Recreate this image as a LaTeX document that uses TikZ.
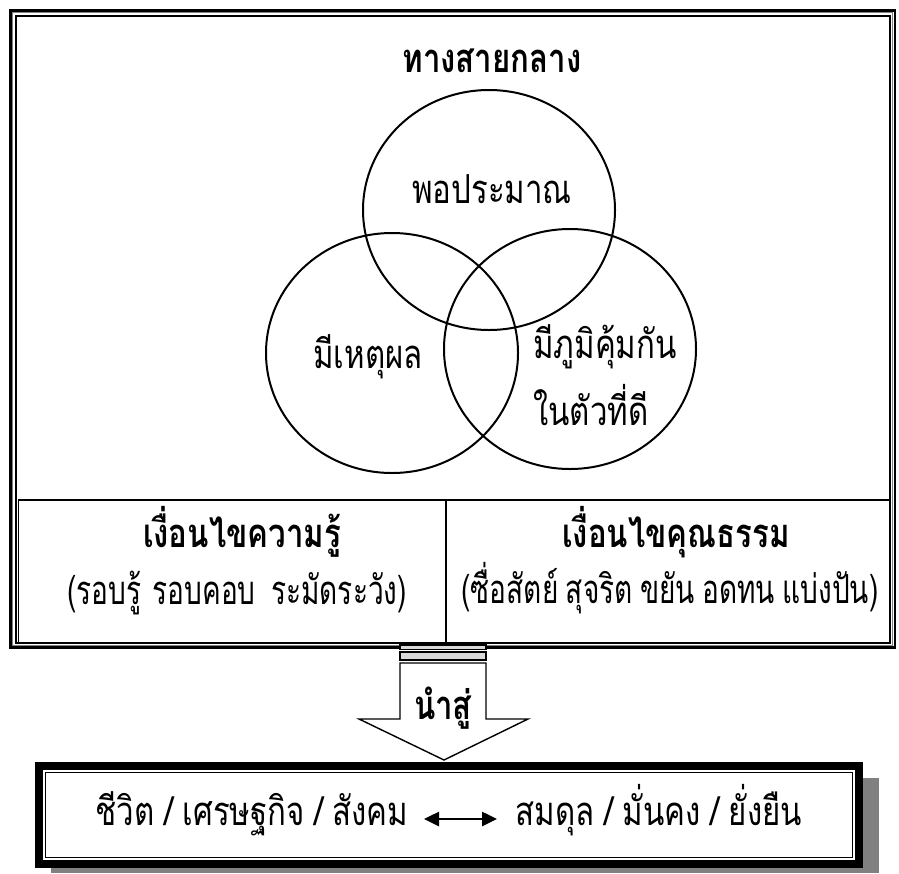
\documentclass[tikz,border=0pt]{standalone}
\usepackage{fontspec}
\newfontfamily\thaifont[Script=Thai, FakeStretch=0.78, WordSpace=0.9]{Loma}
\newfontfamily\thainarrow[Script=Thai, FakeStretch=0.70, WordSpace=0.8]{Loma}
\usepackage{tikz}
\usetikzlibrary{shapes.geometric, arrows.meta, positioning}
\definecolor{shadowgray}{HTML}{808080}
\definecolor{bandgray}{HTML}{D9D9D9}
\tikzset{
  ring/.style={ellipse, draw, line width=1pt, minimum width=126pt, minimum height=120pt, inner sep=0pt},
  lbl/.style={font=\thaifont\fontsize{20}{24}\selectfont, inner sep=0pt, anchor=base},
  hd/.style={lbl, font=\thaifont\bfseries\fontsize{20}{24}\selectfont},
  note/.style={lbl, font=\thainarrow\fontsize{20}{24}\selectfont},
  cond/.style={rectangle, draw, line width=0.8pt, inner sep=0pt},
  dblarr/.style={{Triangle[length=7.5pt,width=7pt]}-{Triangle[length=7.5pt,width=7pt]}, line width=1.3pt},
}
\begin{document}
\begin{tikzpicture}[x=0.5pt, y=-0.5pt]
\useasboundingbox (0,0) rectangle (899,873);
% frame
\draw[line width=1.35pt] (10.7,10.7) rectangle (895,647.3);
\draw[shadowgray, line width=0.5pt] (12.8,12.8) rectangle (892.9,645.2);
\draw[line width=1.15pt] (16.2,16.2) rectangle (889.8,643);
\node[cond, minimum width=213.75pt, minimum height=71.5pt] (know) at (232.25,571.5) {};
\node[cond, minimum width=221.9pt, minimum height=71.5pt] (moral) at (667.9,571.5) {};
\node[hd] (knowhd) at (242,547) {เงื่อนไขความรู้};
\node[note] (knowtx) at (237,604) {(รอบรู้ \hspace{2pt}รอบคอบ \hspace{4pt}ระมัดระวัง)};
\node[hd] (moralhd) at (676,547) {เงื่อนไขคุณธรรม};
\node[note] (moraltx) at (670,603) {(ซื่อสัตย์ สุจริต ขยัน อดทน แบ่งปัน)};
% venn
\node[hd] (title) at (492,72) {ทางสายกลาง};
\node[ring] (mod) at (489,210) {};
\node[ring] (rea) at (392,353) {};
\node[ring] (imm) at (570,349) {};
\node[lbl] (modtx) at (492,203) {พอประมาณ};
\node[lbl] (reatx) at (368,368) {มีเหตุผล};
\node[lbl, anchor=base west] (immtx) at (533,358) {มีภูมิคุ้มกัน};
\node[lbl, anchor=base west] (immtx2) at (533,425) {ในตัวที่ดี};
% block arrow
\draw[fill=bandgray, line width=0.6pt] (400,645) rectangle (486,649.5);
\draw[fill=bandgray, line width=0.6pt] (400,652) rectangle (486,660);
\draw[fill=white, line width=0.7pt] (400,663) -- (400,719) -- (359,719) -- (444,760) -- (528,719) -- (486,719) -- (486,663) -- cycle;
\node[hd] (lead) at (443,719) {นำสู่};
% result
\fill[shadowgray] (51,778) rectangle (879,873);
\draw[fill=white, line width=4pt] (39,766) rectangle (859,864);
\draw[line width=0.8pt] (45.5,772.5) rectangle (852.5,857.5);
\node[lbl] (life) at (252,825) {ชีวิต / เศรษฐกิจ / สังคม};
\node[lbl] (bal) at (659,825) {สมดุล / มั่นคง / ยั่งยืน};
\coordinate (al) at (424,819);
\coordinate (ar) at (497,819);
\draw[dblarr] (al) -- (ar);
\end{tikzpicture}
\end{document}
